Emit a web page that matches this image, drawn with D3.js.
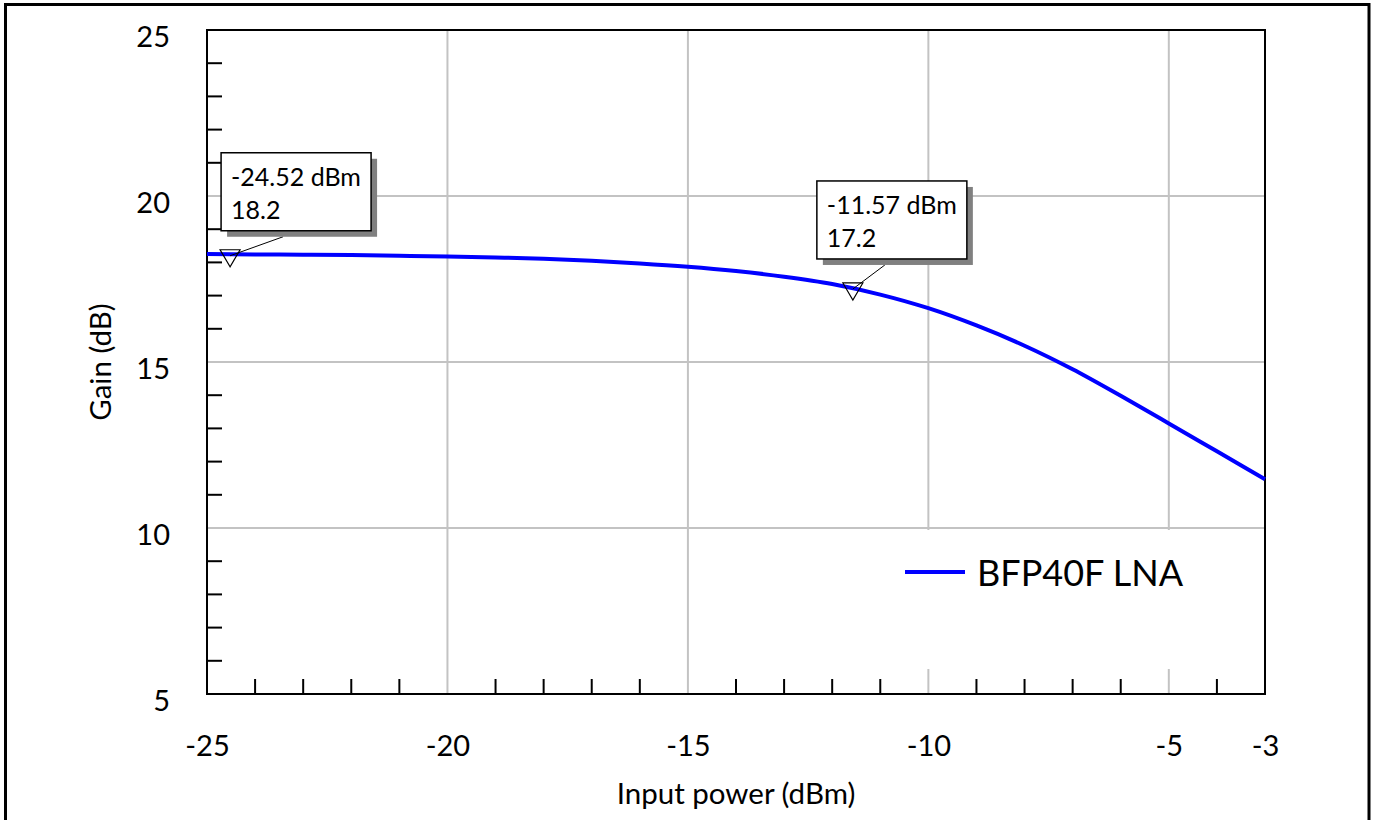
<!DOCTYPE html>
<html><head><meta charset="utf-8">
<script src="https://cdn.jsdelivr.net/npm/d3@7"></script>
<style>
html,body{margin:0;padding:0;background:#fff;overflow:hidden;}
text{font-family:Lato,"Open Sans",sans-serif;fill:#000;}
</style></head>
<body><svg id="chart" width="1375" height="820"></svg>
<script>
// ---- data ----
const inputPower = [-25,-24,-23,-22,-21,-20,-19,-18,-17,-16,-15,-14,-13,-12,-11,-10,-9,-8,-7,-6,-5,-4,-3];
const gain       = [18.25,18.24,18.23,18.22,18.20,18.18,18.15,18.11,18.05,17.97,17.87,17.74,17.57,17.35,17.03,16.62,16.10,15.49,14.78,13.98,13.15,12.31,11.47];
const seriesName = "BFP40F LNA";
const xTickLabels = [-25,-20,-15,-10,-5,-3];
const yTickLabels = [5,10,15,20,25];
const xMinorTicks = d3.range(-24,-3,1).filter(v=>v%5!==0);
const yMinorTicks = d3.range(6,25,1).filter(v=>v%5!==0);
const markerX = [-24.52,-11.57];
const markerY = [18.2,17.2];
const markerText = ["-24.52 dBm","-11.57 dBm"];
const xTitle = "Input power (dBm)";
const yTitle = "Gain (dB)";

// ---- layout ----
const svg = d3.select("#chart");
const L=207, R=1265, T=30, B=694;
const x = d3.scaleLinear().domain([-25,-3]).range([L,R]);
const y = d3.scaleLinear().domain([5,25]).range([B,T]);
const fmt = d => String(d);

// outer frame
svg.append("rect").attr("x",5.5).attr("y",4.5).attr("width",1363.5).attr("height",840)
  .attr("fill","none").attr("stroke","#000").attr("stroke-width",3);

// grid
const g = svg.append("g");
g.selectAll(".vg").data(xTickLabels.filter(v=>v>-25&&v<-3)).join("line")
  .attr("x1",d=>x(d)).attr("x2",d=>x(d)).attr("y1",T).attr("y2",B)
  .attr("stroke","#c3c3c3").attr("stroke-width",2);
g.selectAll(".hg").data(yTickLabels.filter(v=>v>5&&v<25)).join("line")
  .attr("x1",L).attr("x2",R).attr("y1",d=>y(d)).attr("y2",d=>y(d))
  .attr("stroke","#c3c3c3").attr("stroke-width",2);

// legend background (covers grid)
svg.append("rect").attr("x",880).attr("y",y(10)+2).attr("width",R-880).attr("height",669-(y(10)+2)).attr("fill","#fff");

// minor ticks
g.selectAll(".xm").data(xMinorTicks).join("line")
  .attr("x1",d=>x(d)).attr("x2",d=>x(d)).attr("y1",B).attr("y2",B-15)
  .attr("stroke","#000").attr("stroke-width",2);
g.selectAll(".ym").data(yMinorTicks).join("line")
  .attr("x1",L).attr("x2",L+15).attr("y1",d=>y(d)).attr("y2",d=>y(d))
  .attr("stroke","#000").attr("stroke-width",2);

// frame of plot
svg.append("rect").attr("x",L).attr("y",T).attr("width",R-L).attr("height",B-T)
  .attr("fill","none").attr("stroke","#000").attr("stroke-width",2);

// axes labels via d3 axes
const xAxis = d3.axisBottom(x).tickValues(xTickLabels).tickSize(0).tickFormat(fmt);
const xa = svg.append("g").attr("transform",`translate(0,${B})`).call(xAxis);
xa.select(".domain").remove();
xa.selectAll("text").attr("y",0).attr("dy",null).attr("transform","translate(0,62)")
  .style("font-size","29px").style("font-family","Lato,'Open Sans',sans-serif").attr("fill","#000");

const yAxis = d3.axisLeft(y).tickValues(yTickLabels).tickSize(0).tickFormat(fmt);
const ya = svg.append("g").attr("transform",`translate(170,0)`).call(yAxis);
ya.select(".domain").remove();
ya.selectAll("text").attr("x",0).attr("dy",null).attr("y",16)
  .attr("text-anchor","end")
  .style("font-size","29px").style("font-family","Lato,'Open Sans',sans-serif").attr("fill","#000");

// axis titles
svg.append("text").attr("x",(L+R)/2).attr("y",804).attr("text-anchor","middle")
  .style("font-size","29.5px").text(xTitle);
svg.append("text").attr("transform",`translate(111,${y(15)}) rotate(-90)`).attr("text-anchor","middle")
  .style("font-size","29.5px").text(yTitle);

// curve
const pts = inputPower.map((p,i)=>[p,gain[i]]);
svg.append("path").datum(pts)
  .attr("d",d3.line().x(d=>x(d[0])).y(d=>y(d[1])).curve(d3.curveMonotoneX))
  .attr("fill","none").attr("stroke","#0000ff").attr("stroke-width",4);

// markers + annotation boxes
const boxOff = [{dx:-9,dy:-103,lx:53},{dx:-36,dy:-108,lx:32}];
markerX.forEach((mx,i)=>{
  const px=x(mx), py=y(markerY[i]), o=boxOff[i];
  const bx=px+o.dx, by=py+o.dy, bw=150, bh=78;
  svg.append("line").attr("x1",px).attr("y1",py).attr("x2",px+o.lx).attr("y2",by+bh+6)
    .attr("stroke","#000").attr("stroke-width",1);
  svg.append("path").attr("d",`M${px-10},${py-6}L${px+10},${py-6}L${px},${py+11}Z`)
    .attr("fill","none").attr("stroke","#000").attr("stroke-width",1.2);
  svg.append("rect").attr("x",bx+6).attr("y",by+6).attr("width",bw).attr("height",bh).attr("fill","#808080");
  svg.append("rect").attr("x",bx).attr("y",by).attr("width",bw).attr("height",bh)
    .attr("fill","#fff").attr("stroke","#000").attr("stroke-width",1.5);
  svg.append("text").attr("x",bx+10).attr("y",by+33).style("font-size","25px").text(markerText[i]);
  svg.append("text").attr("x",bx+10).attr("y",by+66.5).style("font-size","25px").text(d3.format(".1f")(markerY[i]));
});

// legend
svg.append("line").attr("x1",905).attr("x2",965).attr("y1",572).attr("y2",572)
  .attr("stroke","#0000ff").attr("stroke-width",4);
svg.append("text").attr("x",977).attr("y",586).style("font-size","36px").text(seriesName);
</script></body></html>
